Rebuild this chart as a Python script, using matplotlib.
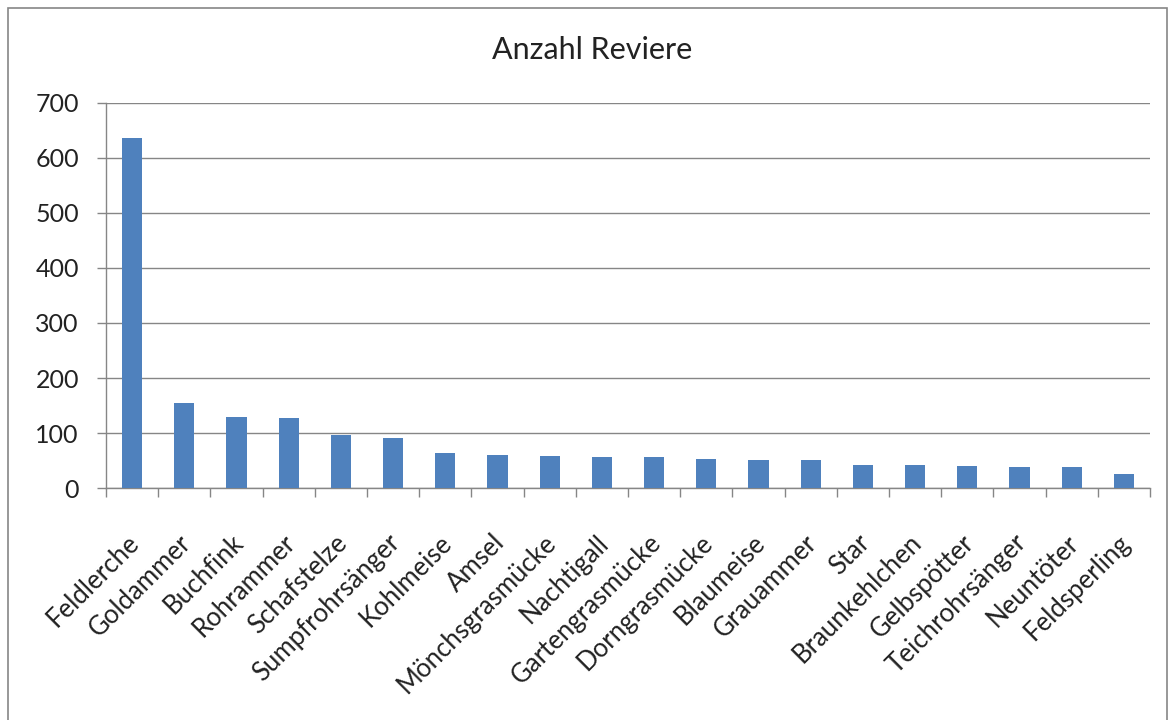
import matplotlib
matplotlib.use("Agg")
import matplotlib.pyplot as plt
import matplotlib.transforms as mtransforms
from matplotlib.patches import Rectangle

species = ["Feldlerche", "Goldammer", "Buchfink", "Rohrammer", "Schafstelze",
           "Sumpfrohrsänger", "Kohlmeise", "Amsel", "Mönchsgrasmücke", "Nachtigall",
           "Gartengrasmücke", "Dorngrasmücke", "Blaumeise", "Grauammer", "Star",
           "Braunkehlchen", "Gelbspötter", "Teichrohrsänger", "Neuntöter", "Feldsperling"]
territories = [636, 154, 130, 128, 96, 92, 64, 60, 58, 56,
               56, 53, 52, 52, 43, 43, 41, 39, 39, 26]
y_ticks = [0, 100, 200, 300, 400, 500, 600, 700]

plt.rcParams["font.family"] = ["Lato", "DejaVu Sans"]

W, H = 1171, 720
fig = plt.figure(figsize=(W / 100, H / 100), dpi=100)
ax = fig.add_axes([106 / W, 1 - 488.3 / H, (1150 - 106) / W, (488.3 - 102.5) / H])

x = list(range(len(species)))
ax.bar(x, territories, width=0.39, color="#4F81BD", zorder=3)

ax.set_xlim(-0.5, len(species) - 0.5)
ax.set_ylim(0, 700)
ax.set_yticks(y_ticks)
ax.set_yticklabels([str(v) for v in y_ticks], fontsize=18, color="#222222")
ax.yaxis.grid(True, color="#868686", linewidth=1.0, zorder=0)

# category labels under each bar, ticks between categories
ax.set_xticks(x)
ax.set_xticklabels(species, rotation=45, ha="right", rotation_mode="anchor",
                   fontsize=18.5, color="#222222")
ax.tick_params(axis="x", length=0, pad=30)
shift = mtransforms.ScaledTranslation(-6 / 100, 0, fig.dpi_scale_trans)
for lbl in ax.get_xticklabels():
    lbl.set_transform(lbl.get_transform() + shift)
ax.set_xticks([i - 0.5 for i in range(len(species) + 1)], minor=True)
ax.tick_params(axis="x", which="minor", length=6.5, color="#868686", width=1)
ax.tick_params(axis="y", length=6.5, color="#868686", width=1, pad=13)

for side in ["top", "right"]:
    ax.spines[side].set_visible(False)
for side in ["left", "bottom"]:
    ax.spines[side].set_color("#868686")
    ax.spines[side].set_linewidth(1.0)

fig.text(592 / W, 1 - 59 / H, "Anzahl Reviere", ha="center", va="baseline",
         fontsize=22, color="#222222")

# chart frame
fig.patches.append(Rectangle((8 / W, -0.05), (1167 - 8) / W, 1.05 - 8 / H,
                             transform=fig.transFigure, fill=False,
                             edgecolor="#868686", linewidth=1.2))

fig.savefig("out.png", dpi=100)
